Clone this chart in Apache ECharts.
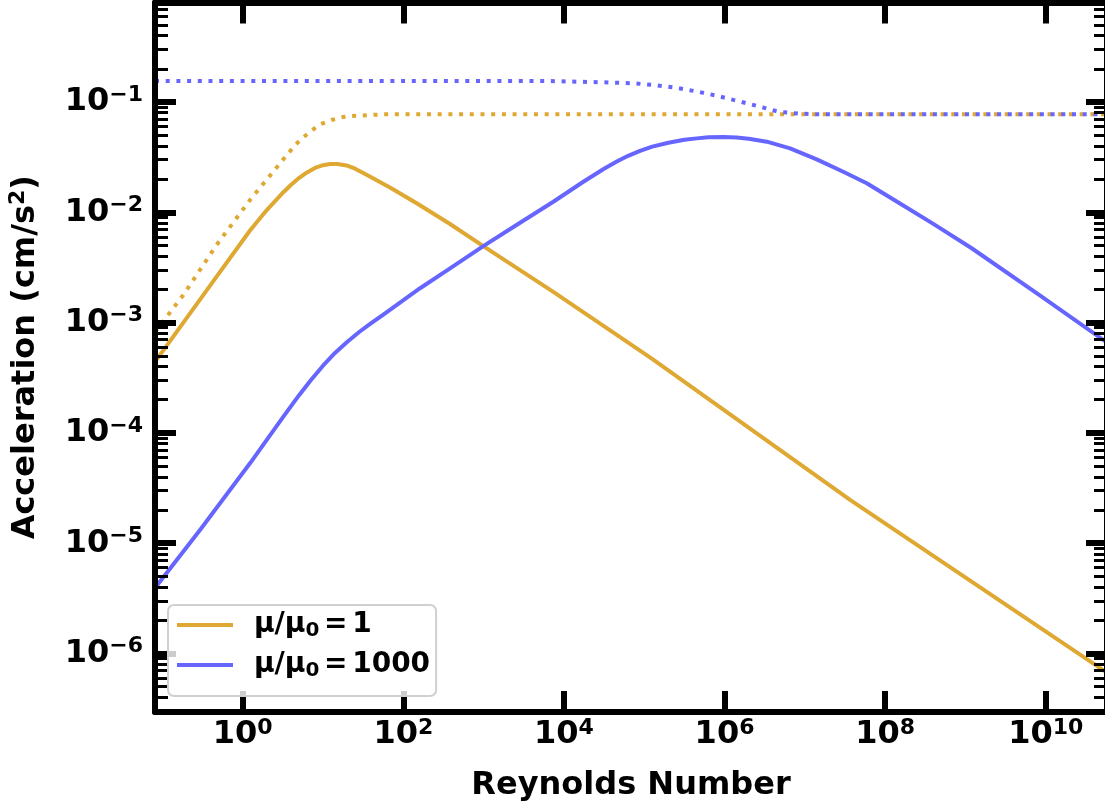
<!DOCTYPE html>
<html>
<head>
<meta charset="utf-8">
<script src="https://cdn.jsdelivr.net/npm/echarts@6/dist/echarts.min.js"></script>
<style>
html,body{margin:0;padding:0;background:#fff;}
#chart{width:1105px;height:810px;}
</style>
</head>
<body>
<div id="chart"></div>
<script>
// ---- data ----
const reOrangeSolid  = [0.0809, 0.473, 1.233, 1.995, 3.21, 3.98, 5.01, 6.31, 7.94, 10.0, 12.2, 15.1, 19.7, 25.1, 34.9, 68.2, 146.9, 382, 991, 7380, 1.23e5, 3.66e7, 5.79e10];
const accOrangeSolid = [4.40e-4, 2.61e-3, 6.84e-3, 1.047e-2, 1.521e-2, 1.770e-2, 2.042e-2, 2.301e-2, 2.523e-2, 2.673e-2, 2.742e-2, 2.742e-2, 2.661e-2, 2.483e-2, 2.188e-2, 1.679e-2, 1.208e-2, 7.83e-3, 4.94e-3, 1.90e-3, 4.74e-4, 2.47e-5, 6.71e-7];

const reOrangeDotted  = [0.0809, 0.182, 0.473, 1.233, 3.21, 4.61, 5.79, 7.36, 9.44, 12.8, 17.1, 22.8, 56.4, 316, 5.79e10];
const accOrangeDotted = [8.2e-4, 1.778e-3, 5.06e-3, 1.294e-2, 3.02e-2, 4.16e-2, 4.84e-2, 5.57e-2, 6.32e-2, 6.87e-2, 7.26e-2, 7.46e-2, 7.73e-2, 7.76e-2, 7.73e-2];

const reBlueSolid  = [0.0809, 0.294, 1.233, 3.21, 5.01, 7.08, 10.0, 14.1, 19.95, 28.2, 39.8, 56.4, 161.8, 382, 991, 2510, 7380, 1.746e4, 3.16e4, 4.55e4, 6.31e4, 8.87e4, 1.259e5, 2.0e5, 3.16e5, 4.51e5, 6.31e5, 9.66e5, 1.413e6, 2.0e6, 3.36e6, 6.55e6, 1.406e7, 3.01e7, 5.90e7, 1.531e8, 3.98e8, 1.197e9, 7.94e9, 5.79e10];
const accBlueSolid = [3.93e-6, 1.318e-5, 5.30e-5, 1.403e-4, 2.188e-4, 3.02e-4, 4.07e-4, 5.31e-4, 6.68e-4, 8.22e-4, 9.89e-4, 1.183e-3, 2.05e-3, 3.10e-3, 4.94e-3, 7.59e-3, 1.247e-2, 1.892e-2, 2.483e-2, 2.884e-2, 3.25e-2, 3.61e-2, 3.94e-2, 4.27e-2, 4.54e-2, 4.68e-2, 4.78e-2, 4.81e-2, 4.76e-2, 4.65e-2, 4.37e-2, 3.80e-2, 3.02e-2, 2.33e-2, 1.832e-2, 1.202e-2, 7.85e-3, 4.72e-3, 1.82e-3, 6.59e-4];

const reBlueDotted  = [0.0809, 6710, 2.90e4, 7.19e4, 1.324e5, 2.42e5, 4.42e5, 8.0e5, 1.459e6, 2.64e6, 4.68e6, 8.55e6, 1.545e7, 5.79e10];
const accBlueDotted = [0.155, 0.1549, 0.1510, 0.1479, 0.1426, 0.1349, 0.1250, 0.1140, 0.1021, 0.0914, 0.0817, 0.0783, 0.0773, 0.0773];

const legendValues = ['1', '1000'];
const xTickExponents = [0, 2, 4, 6, 8, 10];
const yTickExponents = [-6, -5, -4, -3, -2, -1];
const xRange = [0.0809, 5.79e10];
const yRange = [2.95e-7, 0.798];

// ---- styling ----
const FONT = 'DejaVu Sans';
const ORANGE = 'rgb(222,168,50)';
const BLUE = 'rgb(102,102,255)';

const lx0 = Math.log10(xRange[0]), lx1 = Math.log10(xRange[1]);
const ly0 = Math.log10(yRange[0]), ly1 = Math.log10(yRange[1]);

const yMinorTicks = [];
for (let k = -8; k <= 0; k++) {
  for (let m = 2; m <= 9; m++) {
    const v = k + Math.log10(m);
    if (v > ly0 && v < ly1) yMinorTicks.push(v);
  }
}

function pairs(xs, ys) { return xs.map((x, i) => [x, ys[i]]); }

const labelRich = {
  b: {fontFamily: FONT, fontWeight: 'bold', fontSize: 32, lineHeight: 36, color: '#000'},
  e: {fontFamily: FONT, fontWeight: 'bold', fontSize: 22, lineHeight: 22, verticalAlign: 'top', color: '#000'}
};
function powLabel(v) {
  const n = Math.round(v);
  const s = n < 0 ? '\u2212' + Math.abs(n) : String(n);
  return '{b|10}{e|' + s + '}';
}

const spine = {show: true, onZero: false, lineStyle: {color: '#000', width: 6}};
const majorTick = (vals) => ({show: true, inside: true, length: 21, customValues: vals, lineStyle: {color: '#000', width: 6}});
const minorTick = (vals) => ({show: true, inside: true, length: 13, customValues: vals, lineStyle: {color: '#000', width: 3}});

function lineSeries(name, xs, ys, color, dotted) {
  return {
    name: name, type: 'line', xAxisIndex: 0, yAxisIndex: 0,
    data: pairs(xs, ys),
    symbol: 'none', showSymbol: false,
    smooth: false,
    itemStyle: {color: color},
    lineStyle: {color: color, width: 4, type: dotted ? [4, 6.7] : 'solid', cap: 'butt', join: 'round'},
    silent: true, z: 2
  };
}

const chart = echarts.init(document.getElementById('chart'), null, {renderer: 'canvas'});
chart.setOption({
  animation: false,
  backgroundColor: '#fff',
  grid: {left: 155, top: 2.5, width: 952, height: 709.5, containLabel: false, outerBoundsMode: 'none'},
  xAxis: [
    {type: 'log', logBase: 10, min: xRange[0], max: xRange[1], show: false},
    {type: 'value', position: 'bottom', min: lx0, max: lx1, z: 3,
      axisLine: spine, axisTick: majorTick(xTickExponents), splitLine: {show: false},
      axisLabel: {show: true, customValues: xTickExponents, margin: 5, formatter: powLabel, rich: labelRich},
      name: 'Reynolds Number', nameLocation: 'middle', nameGap: 58,
      nameTextStyle: {fontFamily: FONT, fontWeight: 'bold', fontSize: 32, color: '#000'}},
    {type: 'value', position: 'top', min: lx0, max: lx1, z: 3,
      axisLine: spine, axisTick: majorTick(xTickExponents), splitLine: {show: false},
      axisLabel: {show: false}}
  ],
  yAxis: [
    {type: 'log', logBase: 10, min: yRange[0], max: yRange[1], show: false},
    {type: 'value', position: 'left', min: ly0, max: ly1, z: 3,
      axisLine: spine, axisTick: majorTick(yTickExponents), splitLine: {show: false},
      axisLabel: {show: true, customValues: yTickExponents, margin: 12, formatter: powLabel, rich: labelRich},
      name: '{t|Acceleration (cm/s}{e|2}{t|)}', nameLocation: 'middle', nameGap: 110, nameRotate: 90,
      nameTextStyle: {rich: {
        t: {fontFamily: FONT, fontWeight: 'bold', fontSize: 32, lineHeight: 38, color: '#000'},
        e: {fontFamily: FONT, fontWeight: 'bold', fontSize: 22, lineHeight: 22, verticalAlign: 'top', color: '#000'}
      }}},
    {type: 'value', position: 'left', min: ly0, max: ly1, z: 3,
      axisLine: {show: false, onZero: false}, axisTick: minorTick(yMinorTicks), splitLine: {show: false},
      axisLabel: {show: false}},
    {type: 'value', position: 'right', min: ly0, max: ly1, z: 3,
      axisLine: spine, axisTick: majorTick(yTickExponents), splitLine: {show: false},
      axisLabel: {show: false}},
    {type: 'value', position: 'right', min: ly0, max: ly1, z: 3,
      axisLine: {show: false, onZero: false}, axisTick: minorTick(yMinorTicks), splitLine: {show: false},
      axisLabel: {show: false}}
  ],
  legend: {
    show: true, orient: 'vertical', left: 168, top: 605,
    data: [{name: 'mu1'}, {name: 'mu1000'}],
    icon: 'rect', itemWidth: 56, itemHeight: 4, itemGap: 10,
    padding: [6, 6, 15, 9],
    backgroundColor: 'rgba(255,255,255,0.8)', borderColor: '#d0d0d0', borderWidth: 2, borderRadius: 6,
    selectedMode: false, z: 4,
    formatter: function (name) {
      const v = name === 'mu1' ? legendValues[0] : legendValues[1];
      return '{g| }{a|\u03bc/\u03bc}{s|0}{a|\u2006=\u2006' + v + '}';
    },
    textStyle: {
      fontFamily: FONT, fontWeight: 'bold', fontSize: 28, color: '#000',
      rich: {
        g: {width: 16, fontSize: 28, lineHeight: 32},
        a: {fontFamily: FONT, fontWeight: 'bold', fontSize: 28, lineHeight: 32, color: '#000'},
        s: {fontFamily: FONT, fontWeight: 'bold', fontSize: 20, lineHeight: 20, verticalAlign: 'bottom', color: '#000'}
      }
    }
  },
  series: [
    lineSeries('mu1', reOrangeSolid, accOrangeSolid, ORANGE, false),
    lineSeries('mu1dot', reOrangeDotted, accOrangeDotted, ORANGE, true),
    lineSeries('mu1000', reBlueSolid, accBlueSolid, BLUE, false),
    lineSeries('mu1000dot', reBlueDotted, accBlueDotted, BLUE, true)
  ]
});
</script>
</body>
</html>
